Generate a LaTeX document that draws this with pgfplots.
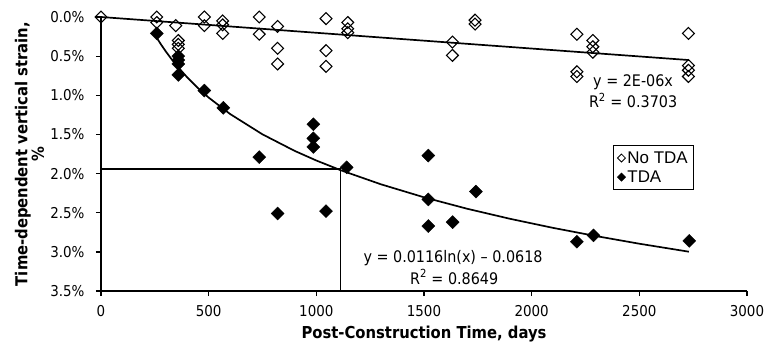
\documentclass[border=0pt]{standalone}
\usepackage{pgfplots}
\pgfplotsset{compat=1.18}
\usepackage{fontspec}
\setmainfont{DejaVu Sans Condensed}
\newfontfamily\legfont{Liberation Sans}
\begin{document}
\begin{tikzpicture}
\begin{axis}[
  name=ax,
  scale only axis, width=646bp, height=274bp,
  xmin=0, xmax=3000, ymin=0, ymax=3.5, y dir=reverse,
  axis x line*=bottom, axis y line*=left,
  axis line style={-, line width=1.3pt},
  clip=false,
  xtick={0,500,...,3000}, xticklabels={0,500,1000,1500,2000,2500,3000},
  ytick={0,0.5,...,3.5}, yticklabels={0.0\%,0.5\%,1.0\%,1.5\%,2.0\%,2.5\%,3.0\%,3.5\%},
  tick align=outside, major tick length=5bp, tick style={line width=1.3pt, black},
  ticklabel style={font=\fontsize{15}{17}\selectfont},
  x tick label style={yshift=-6bp},
  y tick label style={xshift=-8bp},
  xlabel={\bfseries Post-Construction Time, days},
  ylabel={\bfseries Time-dependent vertical strain,\\ \bfseries\%},
  label style={font=\fontsize{16.5}{13}\selectfont, align=center},
  xlabel style={at={(axis description cs:0.5,0)}, yshift=-43bp, anchor=center},
  ylabel style={at={(axis description cs:-0.1107,0.5)}, anchor=center},
  legend style={at={(axis description cs:0.7926,0.533)}, anchor=north west,
    draw=black, line width=1pt, font=\legfont\fontsize{17}{19}\selectfont,
    inner xsep=4pt, inner ysep=4pt, row sep=2pt},
  legend cell align=left,
  legend image post style={mark size=2.8bp, line width=0.8pt},
]
\addplot[only marks, mark=square, mark size=4.2bp, line width=1.1pt, black,
  every mark/.append style={rotate=45}] coordinates {
(0,0.0) (259,0.0) (259,0.07) (347,0.11) (359,0.30) (359,0.35) (359,0.40)
(480,0.0) (480,0.11) (565,0.05) (565,0.10) (565,0.21) (735,0.0) (735,0.22)
(820,0.12) (820,0.40) (820,0.60) (1045,0.02) (1045,0.43) (1045,0.63)
(1146,0.07) (1146,0.15) (1146,0.20) (1632,0.32) (1632,0.49) (1737,0.04) (1737,0.09)
(2210,0.22) (2210,0.70) (2210,0.76) (2284,0.30) (2284,0.38) (2284,0.45)
(2728,0.21) (2728,0.62) (2728,0.68) (2728,0.76)
};
\addlegendentry{No TDA}
\addplot[only marks, mark=square*, mark size=4.6bp, black,
  every mark/.append style={rotate=45}] coordinates {
(259,0.21) (359,0.50) (359,0.55) (359,0.60) (359,0.74) (480,0.94) (568,1.16)
(735,1.79) (820,2.51) (986,1.37) (986,1.55) (986,1.66) (1045,2.48) (1141,1.92)
(1520,1.77) (1520,2.33) (1520,2.67) (1633,2.62) (1741,2.23) (2210,2.87)
(2287,2.79) (2732,2.86)
};
\addlegendentry{TDA}
\addplot[black, line width=1.7pt, forget plot] coordinates {(0,0) (2730,0.55)};
\addplot[black, line width=1.7pt, forget plot] coordinates {
(259,0.266) (280,0.356) (300,0.436) (325,0.529) (350,0.615) (400,0.770) (450,0.907)
(500,1.029) (600,1.240) (750,1.499) (900,1.711) (1000,1.833) (1113,1.957) (1300,2.137)
(1500,2.303) (1700,2.449) (1900,2.578) (2100,2.694) (2300,2.799) (2500,2.896) (2730,2.998)
};
\addplot[black, line width=1.3pt, forget plot] coordinates {(0,1.94) (1113,1.94) (1113,3.5)};
\node[font=\fontsize{16}{18}\selectfont] at (axis cs:2471,0.834) {y = 2E-06x};
\node[font=\fontsize{16}{18}\selectfont] at (axis cs:2471,1.064) {R\textsuperscript{2} = 0.3703};
\node[font=\fontsize{16}{18}\selectfont] at (axis cs:1635,3.08) {y = 0.0116ln(x) -- 0.0618};
\node[font=\fontsize{16}{18}\selectfont] at (axis cs:1640,3.32) {R\textsuperscript{2} = 0.8649};
\end{axis}
\pgfresetboundingbox
\path[use as bounding box] ([xshift=-101bp,yshift=-54bp]ax.south west) rectangle ++(767bp,345bp);
\end{tikzpicture}
\end{document}
